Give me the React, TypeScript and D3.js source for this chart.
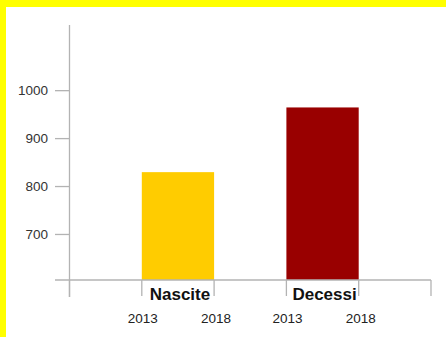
import React from "react";
import * as d3 from "d3";

const categories = ["Nascite", "Decessi"];
const values = [830, 965];
const colors = ["#FFCC00", "#990000"];
const slots = ["pad0", "Nascite", "pad1", "Decessi", "pad2"];
const yearLabels = ["2013", "2018"];
const yTicks = [700, 800, 900, 1000];

export default function App() {
  const W = 446, H = 337;
  const x = d3.scaleBand<string>().domain(slots).range([69.5, 431]).paddingInner(0).paddingOuter(0);
  const y = d3.scaleLinear().domain([605, 1137]).range([280, 25]);
  const base = y(605);
  const bw = x.bandwidth();
  const boundaries = slots.map((s) => x(s)!).concat([x(slots[slots.length - 1])! + bw]);
  const font = "'Liberation Sans', Arial, sans-serif";
  return (
    <>
      <style>{"html,body{margin:0;padding:0;overflow:hidden;background:#fff}"}</style>
      <svg width={W} height={H} style={{ display: "block" }} fontFamily={font}>
        <rect x={0} y={0} width={W} height={H} fill="#fff" />
        <rect x={0} y={0} width={W} height={7} fill="#FFFF00" />
        <rect x={0} y={0} width={6} height={H} fill="#FFFF00" />
        {categories.map((c, i) => (
          <rect key={c} x={x(c)!} y={y(values[i])} width={bw} height={base - y(values[i])} fill={colors[i]} />
        ))}
        <line x1={69.5} x2={69.5} y1={25} y2={297} stroke="#b3b3b3" strokeWidth={1.3} />
        <line x1={55} x2={431} y1={base} y2={base} stroke="#b3b3b3" strokeWidth={1.3} />
        {boundaries.map((b, i) => (
          <line key={i} x1={b} x2={b} y1={base} y2={i === 0 ? 297 : 296} stroke="#b3b3b3" strokeWidth={1.3} />
        ))}
        {yTicks.map((t) => (
          <g key={t}>
            <line x1={55} x2={69.5} y1={y(t)} y2={y(t)} stroke="#b3b3b3" strokeWidth={1.3} />
            <text x={48} y={y(t)} dy="0.35em" textAnchor="end" fontSize={13.5} fill="#333">{t}</text>
          </g>
        ))}
        {categories.map((c) => (
          <g key={c}>
            <text x={x(c)! + bw / 2 + 2} y={300} textAnchor="middle" fontSize={17} fontWeight="bold" fill="#111">{c}</text>
            <text x={x(c)! + 1} y={323} textAnchor="middle" fontSize={13.5} fill="#222">{yearLabels[0]}</text>
            <text x={x(c)! + bw + 2} y={323} textAnchor="middle" fontSize={13.5} fill="#222">{yearLabels[1]}</text>
          </g>
        ))}
      </svg>
    </>
  );
}
